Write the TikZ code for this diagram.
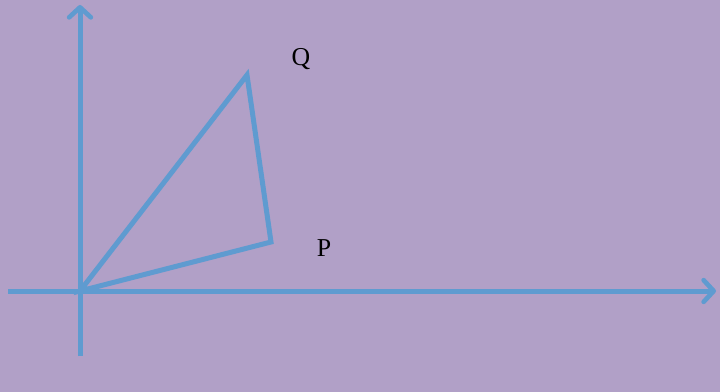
\documentclass[tikz,border=0pt]{standalone}
\usepackage{fontspec}
\setmainfont{Liberation Serif}
\usetikzlibrary{arrows.meta}
\definecolor{bgpurple}{HTML}{B1A0C7}
\definecolor{axisblue}{HTML}{5F9BD0}
\begin{document}
\begin{tikzpicture}[x=0.03cm, y=-0.03cm,
    axis/.style={line width=0.15cm, axisblue, -{Straight Barb[length=3mm, width=6.5mm, line width=0.14cm, round]}},
    side/.style={line width=0.15cm, axisblue},
    lbl/.style={font=\fontsize{22}{22}\selectfont, text=black}]
    % Background
    \fill[bgpurple] (0,0) rectangle (720,392);
    \useasboundingbox (0,0) rectangle (720,392);

    % Axes
    \coordinate (O) at (80,291);
    \coordinate (xl) at (8,291);
    \coordinate (xr) at (716,291);
    \coordinate (yb) at (80,356);
    \coordinate (yt) at (80,5);
    \draw[axis] (xl) -- (xr);
    \draw[axis] (yb) -- (yt);

    % Triangle
    \coordinate (Qv) at (247,75);
    \coordinate (Pv) at (271,242);
    \draw[side] (O) -- (Qv) -- (Pv) -- cycle;

    % Labels
    \node[lbl] (Q) at (301,59) {Q};
    \node[lbl] (P) at (324,248) {P};
\end{tikzpicture}
\end{document}
